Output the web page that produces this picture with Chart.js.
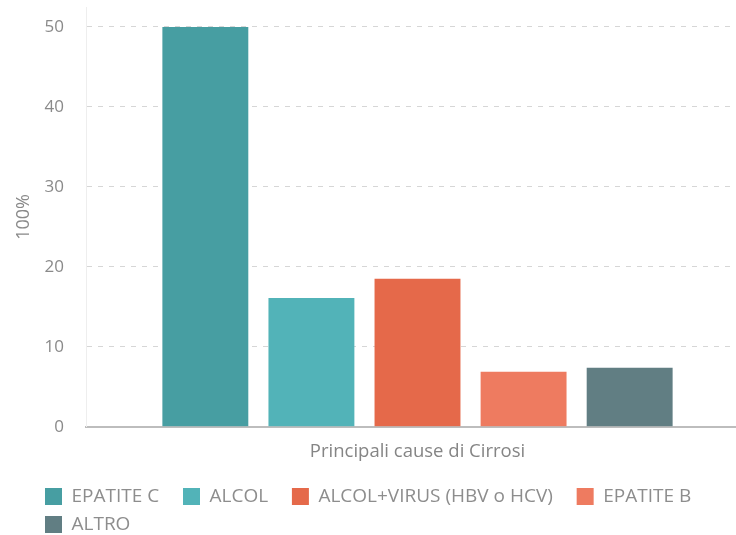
<!DOCTYPE html>
<html>
<head>
<meta charset="utf-8">
<script src="https://cdn.jsdelivr.net/npm/chart.js@4"></script>
<style>
  html, body { margin: 0; padding: 0; background: #fff; overflow: hidden; }
  #wrap { position: absolute; left: 0; top: 0; }
</style>
</head>
<body>
<div id="wrap"><canvas id="cirrosi" width="760" height="544"></canvas></div>
<script>
// data
var causes = ['EPATITE C', 'ALCOL', 'ALCOL+VIRUS (HBV o HCV)', 'EPATITE B', 'ALTRO'];
var percent = [50, 16.1, 18.5, 6.9, 7.4];
var yTicks = [0, 10, 20, 30, 40, 50];
var xTitle = 'Principali cause di Cirrosi';
var yTitle = '100%';

var barColors = ['#479ea2', '#52b3b8', '#e5694a', '#ee7b60', '#617e83'];

var datasets = [];
for (var i = 0; i < causes.length; i++) {
    datasets.push({
        label: causes[i],
        data: [percent[i]],
        backgroundColor: barColors[i],
        borderWidth: 0
    });
}

Chart.defaults.font.family = '"Open Sans", Lato, sans-serif';
Chart.defaults.color = '#8a8a8a';

var ctx = document.getElementById('cirrosi').getContext('2d');
var chartCirrosi = new Chart(ctx, {
    type: 'bar',
    data: {
        labels: [''],
        datasets: datasets
    },
    options: {
        responsive: false,
        animation: false,
        categoryPercentage: 0.8,
        barPercentage: 0.81,
        layout: {
            padding: { left: 36, right: 11, top: 7, bottom: 0 }
        },
        plugins: {
            tooltip: { enabled: false },
            legend: {
                position: 'bottom',
                align: 'start',
                labels: {
                    boxWidth: 17,
                    boxHeight: 17,
                    padding: 9,
                    color: '#8d8d8d',
                    font: { size: 19 },
                    // extra room after each label, the legend items sit wide apart
                    generateLabels: function (chart) {
                        var items = Chart.defaults.plugins.legend.labels.generateLabels(chart);
                        items.forEach(function (item) { item.text = item.text + '   '; });
                        return items;
                    }
                }
            }
        },
        scales: {
            x: {
                grid: { display: false, drawTicks: false },
                border: { display: true, color: '#bdbdbd', width: 2 },
                ticks: { display: false },
                title: {
                    display: true,
                    text: xTitle,
                    color: '#858585',
                    font: { size: 18.5 },
                    padding: { top: 14, bottom: 15 }
                }
            },
            y: {
                min: 0,
                max: 52.5,
                ticks: {
                    stepSize: 10,
                    padding: 22,
                    color: '#8a8a8a',
                    font: { size: 17 }
                },
                afterBuildTicks: function (scale) {
                    scale.ticks = yTicks.map(function (v) { return { value: v }; });
                },
                afterFit: function (scale) {
                    scale.width = 50;
                    scale.paddingTop = 0;
                    scale.paddingBottom = 0;
                },
                grid: {
                    drawTicks: false,
                    color: '#d6d6d6',
                    lineWidth: 1
                },
                border: { display: true, color: '#eeeeee', width: 1, dash: [5, 6] },
                title: {
                    display: true,
                    text: yTitle,
                    color: '#8a8a8a',
                    font: { size: 18 },
                    padding: { top: -23, bottom: 0 }
                }
            }
        }
    }
});
</script>
</body>
</html>
